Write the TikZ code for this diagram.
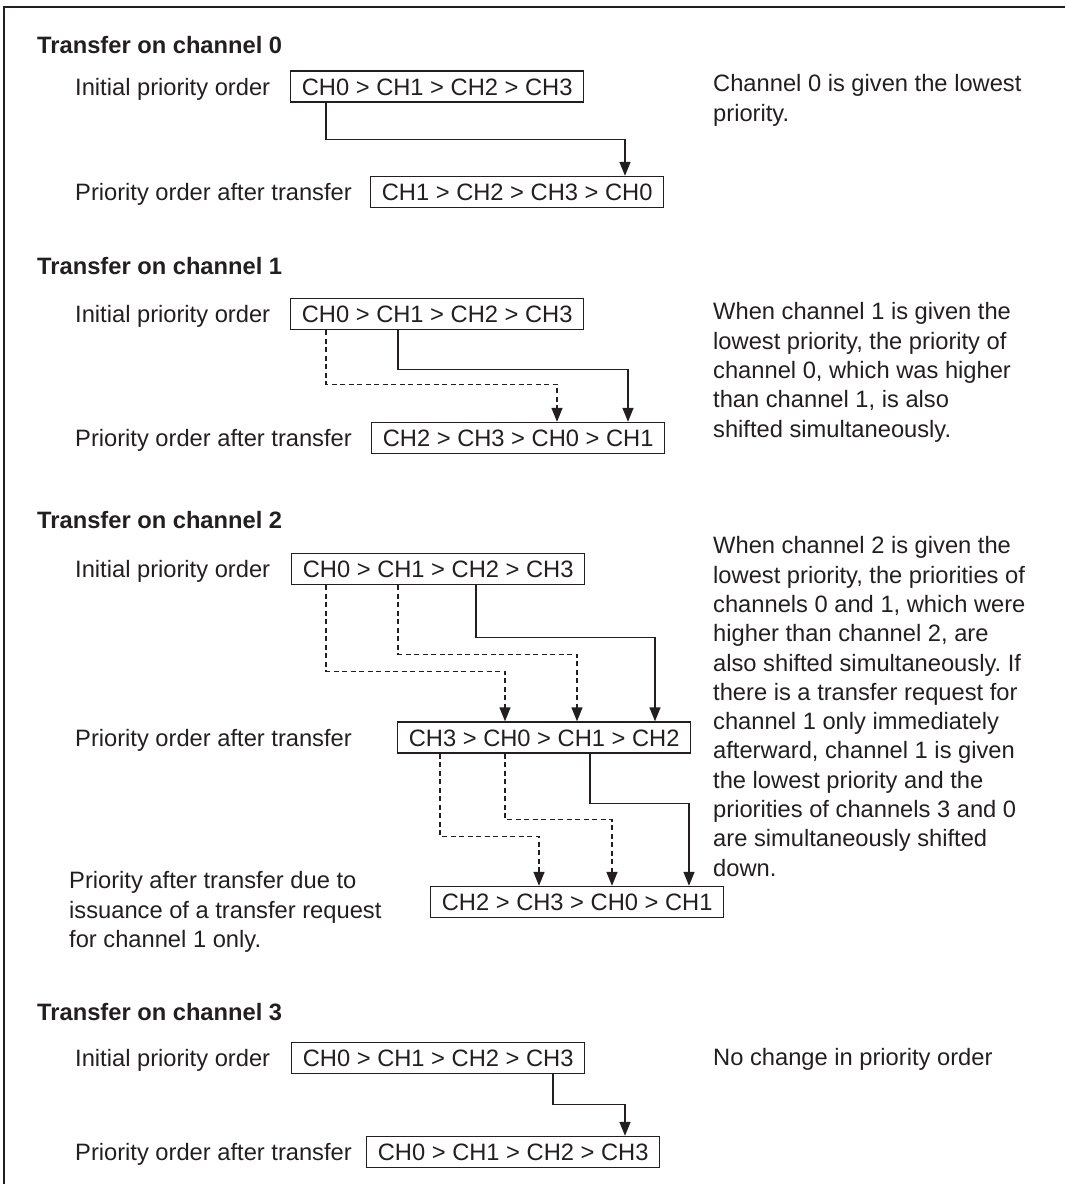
\documentclass[tikz,border=0pt]{standalone}
\usepackage{fontspec}
\setmainfont{Liberation Sans}
\usetikzlibrary{arrows.meta,positioning,calc}
\definecolor{colInk}{HTML}{231F20}
\tikzset{
  chbox/.style={draw=colInk,line width=1.4pt,minimum width=293pt,minimum height=31pt,
    inner sep=0pt,text height=17pt,text depth=0pt,anchor=west},
  lbl/.style={inner sep=0pt,text height=17pt,text depth=0pt,anchor=west},
  ttl/.style={lbl,font=\fontsize{23.7}{28}\selectfont\bfseries},
  note/.style={inner sep=0pt,anchor=north west,align=left},
  conn/.style={draw=colInk,line width=1.4pt,-{Triangle[length=14pt,width=11pt]}},
  dconn/.style={conn,dash pattern=on 5pt off 3.5pt},
}
\frenchspacing

\begin{document}
\begin{tikzpicture}[x=1pt,y=-1pt,font=\fontsize{23.7}{29.3}\selectfont,color=colInk]
      \useasboundingbox (0,0) rectangle (1065,1184);
      \draw[line width=2.5pt] (4,1184) -- (4,7) -- (1065,7);

      \node[ttl] (t0) at (37,45) {Transfer on channel 0};
      \node[lbl] (i0) at (75,86.5) {Initial priority order};
      \node[chbox] (a1) at (290,86.5) {CH0 > CH1 > CH2 > CH3};
      \node[lbl] (p0) at (75,192) {Priority order after transfer};
      \node[chbox] (a2) at (370,192) {CH1 > CH2 > CH3 > CH0};
      \node[note] (n0) at (713,74.5) {Channel 0 is given the lowest\\priority.};
      \draw[conn] ([xshift=36pt]a1.south west) -- ++(0,37) -| ([xshift=255pt]a2.north west);

      \node[ttl] (t1) at (37,266) {Transfer on channel 1};
      \node[lbl] (i1) at (75,314) {Initial priority order};
      \node[chbox] (b1) at (290,314) {CH0 > CH1 > CH2 > CH3};
      \node[lbl] (p1) at (75,438) {Priority order after transfer};
      \node[chbox] (b2) at (371,438) {CH2 > CH3 > CH0 > CH1};
      \node[note] (n1) at (713,302.5)
        {When channel 1 is given the\\lowest priority, the priority of\\channel 0, which was higher\\
         than channel 1, is also\\shifted simultaneously.};
      \draw[dconn] ([xshift=36pt]b1.south west) -- ++(0,54) -| ([xshift=186pt]b2.north west);
      \draw[conn] ([xshift=108pt]b1.south west) -- ++(0,39) -| ([xshift=257pt]b2.north west);

      \node[ttl] (t2) at (37,520) {Transfer on channel 2};
      \node[lbl] (i2) at (75,569) {Initial priority order};
      \node[chbox] (c1) at (291,569) {CH0 > CH1 > CH2 > CH3};
      \node[lbl] (p2) at (75,737.5) {Priority order after transfer};
      \node[chbox] (c2) at (397,737.5) {CH3 > CH0 > CH1 > CH2};
      \node[chbox] (c3) at (430,902) {CH2 > CH3 > CH0 > CH1};
      \node[note] (q2) at (69,871.5)
        {Priority after transfer due to\\issuance of a transfer request\\for channel 1 only.};
      \node[note] (n2) at (713,536.5)
        {When channel 2 is given the\\lowest priority, the priorities of\\channels 0 and 1, which were\\
         higher than channel 2, are\\also shifted simultaneously. If\\there is a transfer request for\\
         channel 1 only immediately\\afterward, channel 1 is given\\the lowest priority and the\\
         priorities of channels 3 and 0\\are simultaneously shifted\\down.};
      \draw[dconn] ([xshift=35pt]c1.south west) -- ++(0,86) -| ([xshift=108pt]c2.north west);
      \draw[dconn] ([xshift=107pt]c1.south west) -- ++(0,69) -| ([xshift=180pt]c2.north west);
      \draw[conn] ([xshift=185pt]c1.south west) -- ++(0,52) -| ([xshift=258pt]c2.north west);
      \draw[dconn] ([xshift=43pt]c2.south west) -- ++(0,83) -| ([xshift=109pt]c3.north west);
      \draw[dconn] ([xshift=108pt]c2.south west) -- ++(0,66) -| ([xshift=182pt]c3.north west);
      \draw[conn] ([xshift=193pt]c2.south west) -- ++(0,50) -| ([xshift=259pt]c3.north west);

      \node[ttl] (t3) at (37,1012) {Transfer on channel 3};
      \node[lbl] (i3) at (75,1058) {Initial priority order};
      \node[chbox] (d1) at (291,1058) {CH0 > CH1 > CH2 > CH3};
      \node[lbl] (p3) at (75,1152) {Priority order after transfer};
      \node[chbox] (d2) at (366,1152) {CH0 > CH1 > CH2 > CH3};
      \node[note] (n3) at (713,1048.5) {No change in priority order};
      \draw[conn] ([xshift=262pt]d1.south west) -- ++(0,30) -| ([xshift=259pt]d2.north west);
    \end{tikzpicture}
\end{document}
